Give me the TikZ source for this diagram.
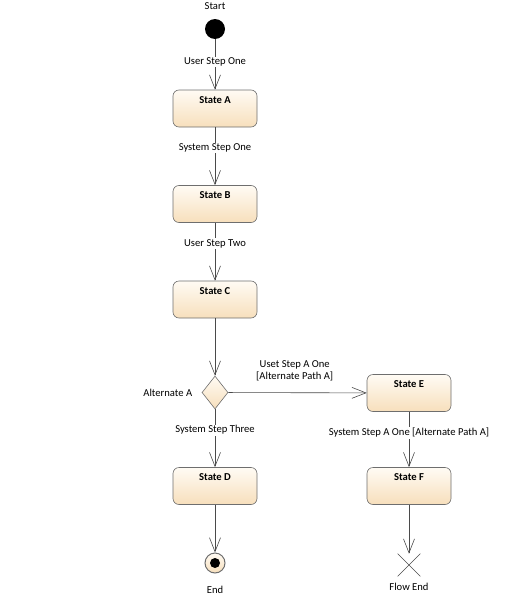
\documentclass[tikz,border=0pt]{standalone}
\usepackage{fontspec}
\setmainfont{Carlito}
\usetikzlibrary{arrows.meta,shapes.geometric,shapes.misc}
\definecolor{umlline}{HTML}{4A4A4A}
\definecolor{umlborder}{HTML}{6E6E6E}
\definecolor{umltop}{HTML}{FFFBF4}
\definecolor{umlbottom}{HTML}{F7DFBC}
\tikzset{
  every node/.style={font=\fontsize{10.6}{12}\selectfont},
  statebox/.style={draw=umlborder, line width=0.6pt, rectangle, rounded corners=6pt,
    top color=umltop, bottom color=umlbottom, minimum width=84pt,
    text height=9pt, text depth=20pt, inner ysep=4pt,
    font=\fontsize{10.6}{12}\selectfont\bfseries},
  flow/.style={draw=umlline, line width=0.6pt, -{Straight Barb[length=14pt,width=11pt]}},
  steplabel/.style={fill=white, inner sep=1pt},
}
\begin{document}
\begin{tikzpicture}
\useasboundingbox (0pt,0pt) rectangle (516pt,-605pt);
\node[circle, fill=black, minimum size=20pt, inner sep=0pt] (start) at (215pt,-29pt) {};
\node (startlbl) at (215pt,-6pt) {Start};
\node[statebox] (sa) at (215pt,-108.5pt) {State A};
\node[statebox] (sb) at (215pt,-204pt) {State B};
\node[statebox] (sc) at (215pt,-299.5pt) {State C};
\node[diamond, draw=umlborder, line width=0.6pt, top color=umltop, bottom color=umlbottom,
  aspect=0.79, minimum width=26pt, minimum height=33pt, inner sep=0pt,
  label={[xshift=-6pt]left:Alternate A}] (alt) at (215pt,-392.5pt) {};
\node[statebox] (sd) at (215pt,-486pt) {State D};
\node[statebox] (se) at (409pt,-393pt) {State E};
\node[statebox] (sf) at (409pt,-486pt) {State F};
\node[circle, draw=umlborder, line width=1pt, top color=umltop, bottom color=umlbottom,
  minimum size=20pt, inner sep=0pt] (end) at (215pt,-563pt) {};
\fill (end) circle (5pt);
\node (endlbl) at (215pt,-590pt) {End};
\node[cross out, draw=umlline, line width=0.6pt, minimum size=22pt, inner sep=0pt] (fe) at (409pt,-565pt) {};
\node (felbl) at (409pt,-587pt) {Flow End};
% transitions
\draw[flow] (start) -- node[steplabel, pos=0.45] {User Step One} (sa);
\draw[flow] (sa) -- node[steplabel, pos=0.36] {System Step One} (sb);
\draw[flow] (sb) -- node[steplabel, pos=0.36] {User Step Two} (sc);
\draw[flow] (sc) -- (alt);
\draw[flow] (alt) -- node[above, align=center, pos=0.48, yshift=10pt, inner sep=1pt] {Uset Step A One\\{}[Alternate Path A]} (se);
\draw[flow] (alt) -- node[steplabel, pos=0.36] {System Step Three} (sd);
\draw[flow] (se) -- node[steplabel, pos=0.38] {System Step A One [Alternate Path A]} (sf);
\draw[flow] (sd) -- (end);
\draw[flow] (sf) -- (fe);
\end{tikzpicture}
\end{document}
